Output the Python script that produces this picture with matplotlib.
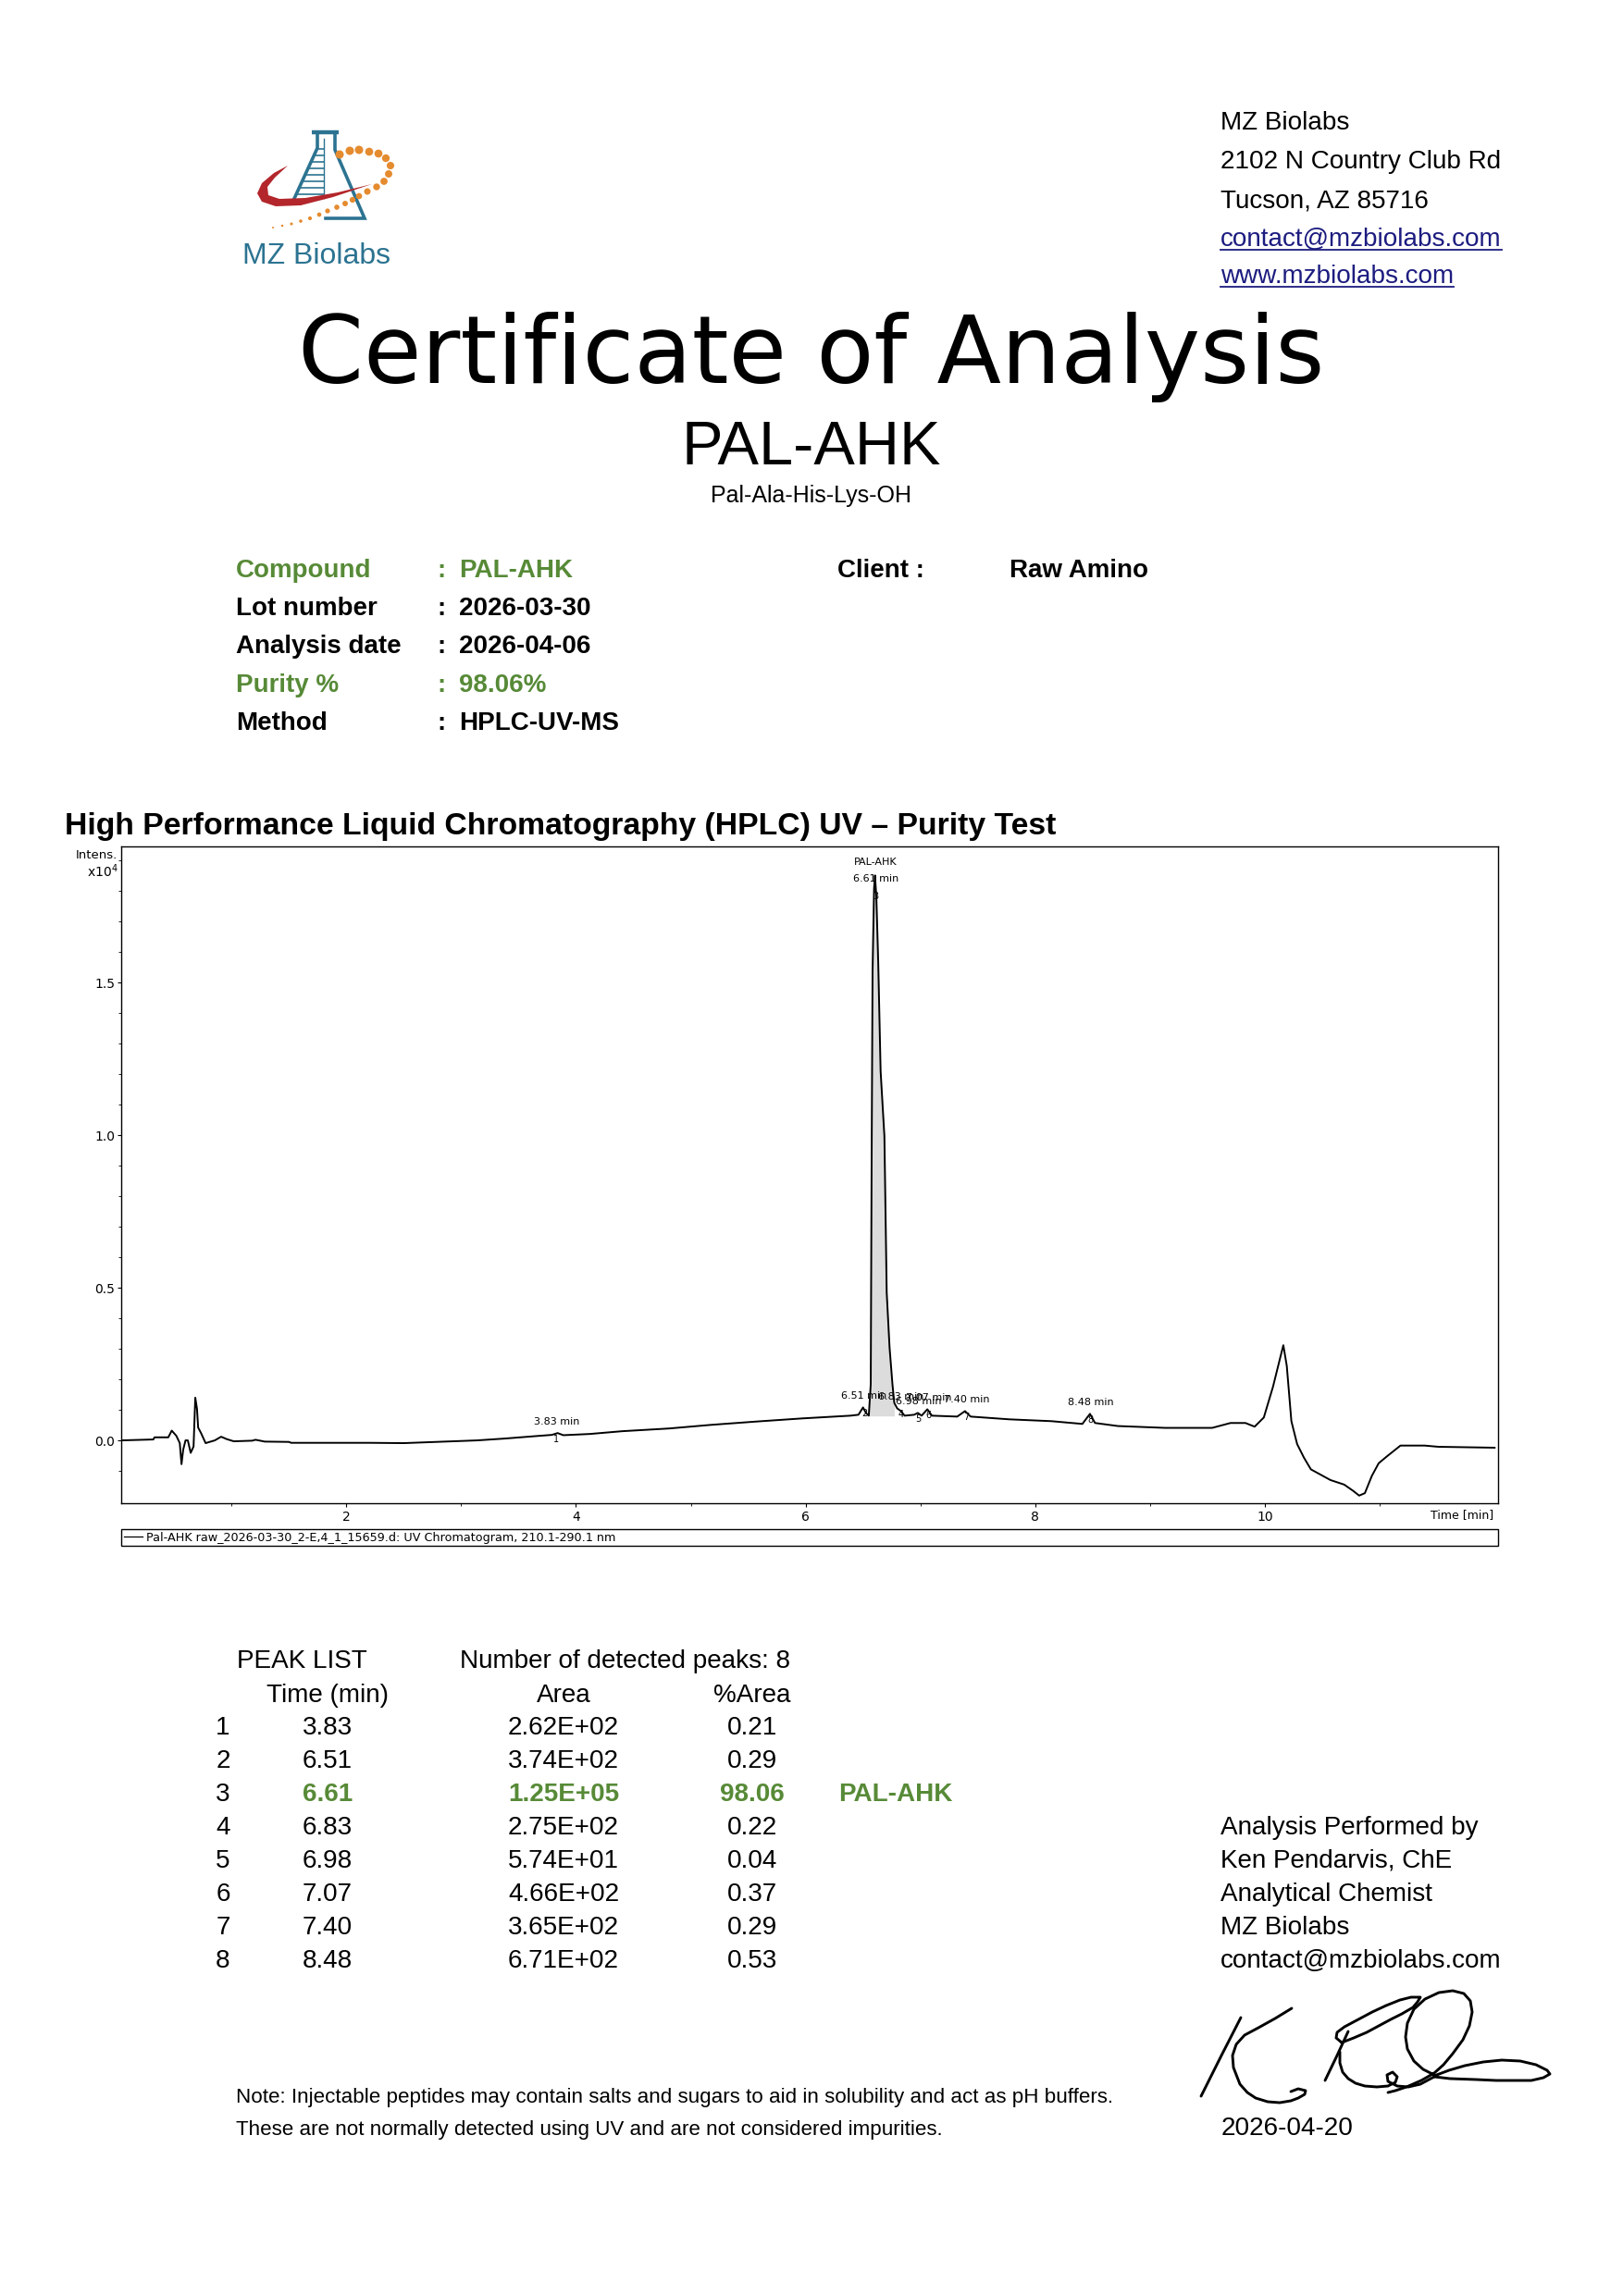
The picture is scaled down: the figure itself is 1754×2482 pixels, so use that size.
import matplotlib
matplotlib.use("Agg")
import matplotlib.pyplot as plt
from matplotlib.patches import Polygon
from matplotlib.lines import Line2D

# ------------------------------------------------------------------ data
# UV chromatogram trace (time in min, intensity in units of 10^4)
trace_time = [0.04, 0.32, 0.33, 0.45, 0.48, 0.52, 0.55, 0.565, 0.58, 0.60, 0.62,
              0.645, 0.67, 0.685, 0.70, 0.71, 0.735, 0.775, 0.855, 0.91, 0.96,
              1.02, 1.18, 1.21, 1.29, 1.50, 1.52, 1.56, 2.20, 2.50, 3.14, 3.38,
              3.65, 3.79, 3.84, 3.89, 4.12, 4.40, 4.81, 5.18, 5.58, 5.97, 6.39,
              6.46, 6.50, 6.525, 6.55, 6.567, 6.575, 6.583, 6.596, 6.604, 6.616,
              6.632, 6.653, 6.686, 6.706, 6.731, 6.756, 6.772, 6.797, 6.83, 6.862,
              6.945, 6.977, 7.01, 7.06, 7.10, 7.32, 7.388, 7.437, 7.774, 8.14,
              8.41, 8.476, 8.52, 8.72, 9.13, 9.54, 9.70, 9.83, 9.91, 9.99, 10.07,
              10.13, 10.16, 10.19, 10.23, 10.28, 10.34, 10.40, 10.57, 10.69,
              10.77, 10.82, 10.87, 10.93, 10.99, 11.06, 11.18, 11.39, 11.51, 12.00]
trace_intensity = [0.0, 0.003, 0.010, 0.010, 0.032, 0.015, -0.009, -0.078, -0.030,
                   0.0, 0.0, -0.041, -0.020, 0.140, 0.103, 0.042, 0.024, -0.009,
                   0.0, 0.012, 0.004, -0.003, -0.001, 0.002, -0.004, -0.005, -0.008,
                   -0.008, -0.008, -0.009, 0.0, 0.006, 0.014, 0.018, 0.024, 0.017,
                   0.021, 0.030, 0.039, 0.051, 0.062, 0.072, 0.081, 0.084, 0.108,
                   0.090, 0.081, 0.184, 0.937, 1.540, 1.810, 1.852, 1.780, 1.570,
                   1.210, 0.997, 0.485, 0.304, 0.184, 0.123, 0.105, 0.096, 0.081,
                   0.084, 0.090, 0.081, 0.102, 0.081, 0.078, 0.096, 0.078, 0.069,
                   0.063, 0.054, 0.087, 0.057, 0.047, 0.041, 0.041, 0.057, 0.057,
                   0.045, 0.075, 0.176, 0.267, 0.312, 0.244, 0.063, -0.012, -0.057,
                   -0.095, -0.130, -0.145, -0.166, -0.181, -0.173, -0.117, -0.075,
                   -0.053, -0.017, -0.017, -0.021, -0.024]

# integrated area of the main peak (grey) and its baseline level
main_fill_start = 6.55
main_fill_end = 6.775
main_fill_base = 0.08

# peak list
peak_no = [1, 2, 3, 4, 5, 6, 7, 8]
peak_time = [3.83, 6.51, 6.61, 6.83, 6.98, 7.07, 7.40, 8.48]
peak_apex = [0.024, 0.108, 1.852, 0.105, 0.090, 0.102, 0.096, 0.087]
peak_area = ["2.62E+02", "3.74E+02", "1.25E+05", "2.75E+02",
             "5.74E+01", "4.66E+02", "3.65E+02", "6.71E+02"]
peak_pct = ["0.21", "0.29", "98.06", "0.22", "0.04", "0.37", "0.29", "0.53"]
main_peak_index = 2
main_peak_name = "PAL-AHK"

x_ticks = [2, 4, 6, 8, 10]
y_ticks = [0.0, 0.5, 1.0, 1.5]
y_tick_labels = ["0.0", "0.5", "1.0", "1.5"]
legend_label = "Pal-AHK raw_2026-03-30_2-E,4_1_15659.d: UV Chromatogram, 210.1-290.1 nm"

address_lines = ["MZ Biolabs", "2102 N Country Club Rd", "Tucson, AZ 85716",
                 "contact@mzbiolabs.com", "www.mzbiolabs.com"]
info_labels = ["Compound", "Lot number", "Analysis date", "Purity %", "Method"]
info_values = ["PAL-AHK", "2026-03-30", "2026-04-06", "98.06%", "HPLC-UV-MS"]
info_green = [True, False, False, True, False]
analyst_lines = ["Analysis Performed by", "Ken Pendarvis, ChE", "Analytical Chemist",
                 "MZ Biolabs", "contact@mzbiolabs.com"]
note_lines = ["Note: Injectable peptides may contain salts and sugars to aid in solubility and act as pH buffers.",
              "These are not normally detected using UV and are not considered impurities."]

# ------------------------------------------------------------------ style
W, H = 1754, 2482
GREEN = "#578a37"
TEAL = "#2c7391"
LINK = "#1c1c80"
ARIAL = "Liberation Sans"
DJV = "DejaVu Sans"

fig = plt.figure(figsize=(W / 100, H / 100), dpi=100)
fig.patch.set_facecolor("white")

bg = fig.add_axes([0, 0, 1, 1], zorder=0)
bg.set_xlim(0, W)
bg.set_ylim(H, 0)
bg.axis("off")


def txt(x, y, s, size, family=ARIAL, weight="normal", color="black", ha="left", va="baseline", **kw):
    return bg.text(x, y, s, fontsize=size, family=family, fontweight=weight,
                   color=color, ha=ha, va=va, **kw)


# ---------------- logo
# red swoosh
swoosh = [(311, 179), (296, 187), (283, 198), (278, 209), (283, 218), (298, 223),
          (325, 222), (360, 213), (402, 199), (365, 208), (330, 214), (302, 215),
          (290, 211), (289, 202), (297, 192)]
bg.add_patch(Polygon(swoosh, closed=True, facecolor="#b3262b", edgecolor="none", zorder=3))
# flask
bg.plot([337, 366], [143, 143], color=TEAL, lw=3.2, solid_capstyle="butt", zorder=2)
bg.plot([343, 343, 316], [143, 160, 219], color=TEAL, lw=2.6, zorder=2)
bg.plot([362, 362, 394, 352], [143, 162, 236, 236], color=TEAL, lw=2.6,
        solid_joinstyle="miter", zorder=2)
for yy in [161, 168, 175, 182, 189, 196, 203, 210]:
    xl = 343 - (yy - 160) * 27 / 59
    bg.plot([xl + 1, 350], [yy, yy], color=TEAL, lw=1.2, zorder=2)
bg.plot([350, 350], [150, 214], color=TEAL, lw=1.0, zorder=2)
# orange dots
dots = [(367, 167, 5.0), (378, 163, 5.0), (388, 162, 5.0), (399, 164, 4.8), (409, 166, 4.8),
        (417, 171, 4.6), (422, 179, 4.5), (420, 188, 4.4), (415, 196, 4.3), (407, 202, 4.1),
        (397, 207, 3.9), (388, 212, 3.7), (381, 216, 3.5), (373, 220, 3.3), (364, 224, 3.1),
        (354, 228, 2.9), (345, 232, 2.6), (335, 236, 2.3), (325, 239, 2.0), (315, 242, 1.7),
        (305, 244, 1.4), (295, 246, 1.1)]
bg.scatter([d[0] for d in dots], [d[1] for d in dots],
           s=[(d[2] * 1.3) ** 2 for d in dots], color="#e58b2f", edgecolors="none", zorder=4)
txt(342, 285, "MZ Biolabs", 23, color=TEAL, ha="center")

# ---------------- address block
addr_base = [140, 182, 224, 266, 306]
addr_artists = []
for i, (s, yb) in enumerate(zip(address_lines, addr_base)):
    addr_artists.append(txt(1319, yb, s, 20.1, color=LINK if i >= 3 else "black"))

# ---------------- headings
txt(877, 414, "Certificate of Analysis", 73.2, family=DJV, ha="center")
txt(877, 502, "PAL-AHK", 48, ha="center")
txt(877, 543, "Pal-Ala-His-Lys-OH", 18, ha="center")

# ---------------- info block
info_base = [624, 665, 706, 748, 789]
for lab, val, g, yb in zip(info_labels, info_values, info_green, info_base):
    c = GREEN if g else "black"
    txt(255, yb, lab, 20, weight="bold", color=c)
    txt(472, yb, ":", 20, weight="bold", color=c)
    txt(496, yb, val, 20, weight="bold", color=c)
txt(905, info_base[0], "Client :", 20, weight="bold")
txt(1091, info_base[0], "Raw Amino", 20, weight="bold")

txt(70, 902, "High Performance Liquid Chromatography (HPLC) UV \u2013 Purity Test", 24.3, weight="bold")

# ---------------- chromatogram
ax_l, ax_r, ax_t, ax_b = 131, 1619, 915, 1625
ax = fig.add_axes([ax_l / W, 1 - ax_b / H, (ax_r - ax_l) / W, (ax_b - ax_t) / H], zorder=2)
ax.set_xlim(0.04, 12.03)
ax.set_ylim(-0.206, 1.947)

mask = [(main_fill_start <= t <= main_fill_end) for t in trace_time]
ax.fill_between(trace_time, trace_intensity, main_fill_base, where=mask,
                color="#dcdcdc", linewidth=0, zorder=1)
line, = ax.plot(trace_time, trace_intensity, color="black", lw=1.4, zorder=3,
                solid_joinstyle="round")

ax.set_xticks(x_ticks)
ax.set_xticklabels([str(v) for v in x_ticks])
ax.set_xticks(range(1, 12), minor=True)
ax.set_yticks(y_ticks)
ax.set_yticklabels(y_tick_labels)
ax.set_yticks([v / 10 for v in range(-1, 20)], minor=True)
ax.tick_params(axis="both", which="major", direction="out", length=3, width=0.8,
               labelsize=10, pad=2)
ax.tick_params(axis="both", which="minor", direction="out", length=2, width=0.6)
ax.tick_params(axis="x", which="major", pad=3)
for lab in ax.get_xticklabels() + ax.get_yticklabels():
    lab.set_family(DJV)
for sp in ax.spines.values():
    sp.set_linewidth(1.0)

for i, (n, t, a) in enumerate(zip(peak_no, peak_time, peak_apex)):
    if i == main_peak_index:
        ax.annotate(f"{t:.2f} min", xy=(t, a), xytext=(0, -3), textcoords="offset points",
                    ha="center", va="center", fontsize=8, family=DJV, zorder=2)
        ax.annotate(main_peak_name, xy=(t, a), xytext=(0, 10), textcoords="offset points",
                    ha="center", va="center", fontsize=8, family=DJV, zorder=2)
        ax.annotate(str(n), xy=(t, a), xytext=(0, -16), textcoords="offset points",
                    ha="center", va="center", fontsize=7, family=DJV, zorder=4)
    else:
        ax.annotate(f"{t:.2f} min", xy=(t, a), xytext=(0, 9), textcoords="offset points",
                    ha="center", va="center", fontsize=8, family=DJV, zorder=2)
        ax.annotate(str(n), xy=(t, a), xytext=(0, -5), textcoords="offset points",
                    ha="center", va="center", fontsize=7, family=DJV, zorder=4)

ax.text(0.997, -0.018, "Time [min]", transform=ax.transAxes, ha="right", va="center",
        fontsize=9, family=DJV)
txt(127, 924, "Intens.", 9.5, family=DJV, ha="right", va="center")
txt(128, 942, "x10$^{4}$", 10, family=DJV, ha="right", va="center")

leg = ax.legend([line], [legend_label], loc="upper left", mode="expand",
                bbox_to_anchor=(0.0, -(1653 - ax_b) / (ax_b - ax_t), 1.0, 0.0),
                borderaxespad=0, borderpad=0.2, handlelength=1.6, handletextpad=0.3,
                fancybox=False, framealpha=1, edgecolor="black",
                prop={"family": DJV, "size": 9.2})
leg.get_frame().set_linewidth(1.0)
leg.get_lines()[0].set_linewidth(0.9)

# ---------------- peak list table
txt(256, 1803, "PEAK LIST", 20.1)
txt(497, 1803, f"Number of detected peaks: {len(peak_no)}", 20.1)
txt(354, 1840, "Time (min)", 20.1, ha="center")
txt(609, 1840, "Area", 20.1, ha="center")
txt(813, 1840, "%Area", 20.1, ha="center")
for i, (n, t, a, p) in enumerate(zip(peak_no, peak_time, peak_area, peak_pct)):
    yb = 1875 + 36 * i
    main = i == main_peak_index
    c = GREEN if main else "black"
    w = "bold" if main else "normal"
    txt(241, yb, str(n), 20.1, ha="center")
    txt(354, yb, f"{t:.2f}", 20.1, ha="center", color=c, weight=w)
    txt(609, yb, a, 20.1, ha="center", color=c, weight=w)
    txt(813, yb, p, 20.1, ha="center", color=c, weight=w)
    if main:
        txt(906, yb, main_peak_name, 20.1, color=GREEN, weight="bold")

for i, s in enumerate(analyst_lines):
    txt(1319, 1983 + 36 * i, s, 20.1)

txt(1320, 2308, "2026-04-20", 20.1)
txt(255, 2273, note_lines[0], 16.1)
txt(255, 2308, note_lines[1], 16.1)

# ---------------- signature
sig_strokes = [
    [(1298, 2266), (1320, 2222), (1341, 2181)],
    [(1396, 2171), (1378, 2182), (1360, 2192), (1345, 2200), (1336, 2210), (1332, 2222),
     (1333, 2235), (1340, 2253), (1348, 2262), (1357, 2268), (1370, 2272), (1383, 2273),
     (1395, 2271), (1403, 2268), (1410, 2264), (1411, 2260), (1403, 2258), (1395, 2261)],
    [(1432, 2249), (1445, 2222), (1457, 2196)],
    [(1450, 2208), (1444, 2203), (1445, 2197), (1453, 2191), (1468, 2183), (1483, 2175),
     (1498, 2168), (1513, 2162), (1525, 2159), (1535, 2159), (1532, 2164), (1527, 2170),
     (1515, 2177), (1503, 2183), (1490, 2190), (1477, 2197), (1463, 2203), (1450, 2208)],
    [(1448, 2218), (1448, 2230), (1451, 2240), (1457, 2247), (1465, 2252), (1475, 2255),
     (1488, 2256), (1500, 2255), (1508, 2251), (1510, 2245), (1505, 2240), (1499, 2243),
     (1500, 2250), (1510, 2255), (1522, 2256), (1535, 2253), (1550, 2245)],
    [(1550, 2243), (1538, 2237), (1528, 2228), (1521, 2215), (1519, 2202), (1521, 2187),
     (1528, 2172), (1540, 2161), (1555, 2154), (1570, 2152), (1582, 2155), (1589, 2163),
     (1591, 2175), (1588, 2190), (1581, 2205), (1570, 2220), (1560, 2232), (1550, 2241),
     (1536, 2249), (1520, 2256), (1508, 2260), (1500, 2262)],
    [(1550, 2244), (1566, 2238), (1583, 2233), (1603, 2229), (1623, 2227), (1643, 2228),
     (1660, 2232), (1672, 2238), (1675, 2242), (1668, 2246), (1655, 2249), (1635, 2249),
     (1617, 2249), (1595, 2248), (1567, 2247), (1550, 2245)],
]
for stroke in sig_strokes:
    bg.plot([p[0] for p in stroke], [p[1] for p in stroke], color="black", lw=2.1,
            solid_capstyle="round", solid_joinstyle="round")

# ---------------- underline the links
fig.canvas.draw()
r = fig.canvas.get_renderer()
inv = bg.transData.inverted()
for art, yb in zip(addr_artists[3:], addr_base[3:]):
    bb = art.get_window_extent(renderer=r)
    x0 = inv.transform((bb.x0, 0))[0]
    x1 = inv.transform((bb.x1, 0))[0]
    bg.add_line(Line2D([x0, x1], [yb + 4, yb + 4], color=LINK, lw=1.3))

fig.savefig("out.png", dpi=100, facecolor="white")
